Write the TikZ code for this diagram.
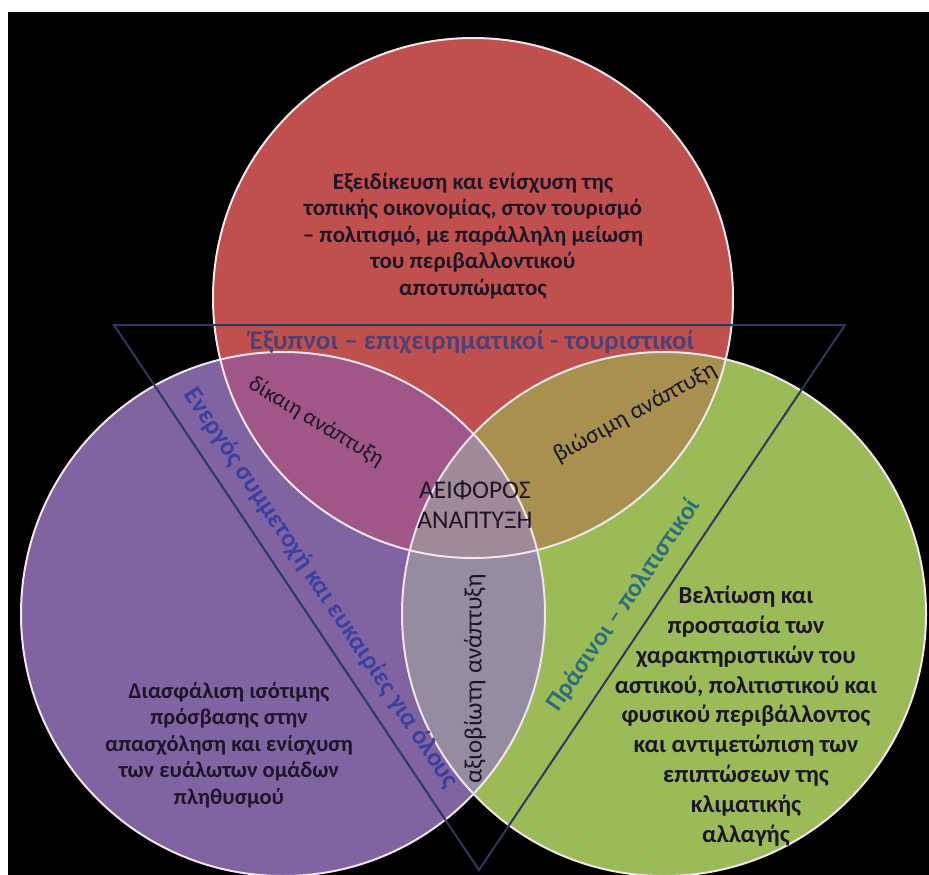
\documentclass[tikz,border=0pt]{standalone}
\usepackage{fontspec}
\setmainfont{Carlito}
\definecolor{redfill}{HTML}{C0504D}
\definecolor{purplefill}{HTML}{8064A2}
\definecolor{greenfill}{HTML}{9BBB59}
\definecolor{rpfill}{HTML}{A05686}
\definecolor{rgfill}{HTML}{A8914F}
\definecolor{pgfill}{HTML}{968CA2}
\definecolor{midfill}{HTML}{A08A98}
\definecolor{ringline}{HTML}{F4E4EC}
\definecolor{triline}{HTML}{2B3A5C}
\definecolor{toptext}{HTML}{4F3F72}
\definecolor{lefttext}{HTML}{3B3F9E}
\definecolor{righttext}{HTML}{2E6E78}
\definecolor{maintext}{HTML}{1E1428}
\begin{document}
\begin{tikzpicture}[x=1pt, y=-1pt]
  \tikzstyle{ring} = [draw=ringline, line width=2pt]
  \tikzstyle{tri} = [draw=triline, line width=2pt, line join=miter]
  \tikzstyle{goal} = [text=maintext, align=center, font={\bfseries\fontsize{23}{26.5}\selectfont}]
  \tikzstyle{lens} = [text=maintext, font={\fontsize{24}{28}\selectfont}]
  \tikzstyle{side} = [font={\bfseries\fontsize{26}{30}\selectfont}]

  % frame
  \fill[white] (0,0) rectangle (929,875);
  \fill[black] (8,12) rectangle (929,875);
  \useasboundingbox (0,0) rectangle (929,875);

  \coordinate (cR) at (473,298);
  \coordinate (cP) at (283,614);
  \coordinate (cG) at (664,614);

	% circles
	\fill[redfill] (cR) circle[radius=260pt];
	\fill[purplefill] (cP) circle[radius=262pt];
	\fill[greenfill] (cG) circle[radius=262pt];

	% overlaps
	\begin{scope}
	  \clip (cR) circle[radius=260pt];
	  \fill[rpfill] (cP) circle[radius=262pt];
	  \fill[rgfill] (cG) circle[radius=262pt];
	\end{scope}
	\begin{scope}
	  \clip (cP) circle[radius=262pt];
	  \fill[pgfill] (cG) circle[radius=262pt];
	  \clip (cG) circle[radius=262pt];
	  \fill[midfill] (cR) circle[radius=260pt];
	\end{scope}

	\draw[ring] (cR) circle[radius=260pt];
	\draw[ring] (cP) circle[radius=262pt];
	\draw[ring] (cG) circle[radius=262pt];

	% triangle
	\coordinate (tl) at (114,325);
	\coordinate (tr) at (845,325);
	\coordinate (tb) at (479,870);
	\draw[tri] (tl) -- (tr) -- (tb) -- cycle;

	% texts
	\node[goal] (eco) at (473,236) {Εξειδίκευση και ενίσχυση της\\τοπικής οικονομίας, στον τουρισμό\\– πολιτισμό, με παράλληλη μείωση\\του περιβαλλοντικού\\αποτυπώματος};
	\node[goal, font={\bfseries\fontsize{22.5}{26.6}\selectfont}] (soc) at (229,745) {Διασφάλιση ισότιμης\\πρόσβασης στην\\απασχόληση και ενίσχυση\\των ευάλωτων ομάδων\\πληθυσμού};
	\node[goal, font={\bfseries\fontsize{24.5}{29.8}\selectfont}] (env) at (746,716) {Βελτίωση και\\προστασία των\\χαρακτηριστικών του\\αστικού, πολιτιστικού και\\φυσικού περιβάλλοντος\\και αντιμετώπιση των\\επιπτώσεων της\\κλιματικής\\αλλαγής};

	\node[side, text=toptext, font={\bfseries\fontsize{27}{30}\selectfont}] (smart) at (472,342) {Έξυπνοι – επιχειρηματικοί - τουριστικοί};
	\node[side, text=lefttext, rotate=-56.3] (active) at (321,588) {Ενεργός συμμετοχή και ευκαιρίες για όλους};
	\node[side, text=righttext, rotate=55.5, font={\bfseries\fontsize{25.5}{30}\selectfont}] (green) at (624,605) {Πράσινοι – πολιτιστικοί};

	\node[lens, font={\fontsize{22.5}{26}\selectfont}, rotate=-31] (fair) at (316,422) {δίκαιη ανάπτυξη};
	\node[lens, rotate=29] (viable) at (635,413) {βιώσιμη ανάπτυξη};
	\node[lens, font={\fontsize{25}{28}\selectfont}, rotate=90] (livable) at (475,679) {αξιοβίωτη ανάπτυξη};
	\node[lens, align=center, font={\fontsize{25.5}{30}\selectfont}] (core) at (475,505) {ΑΕΙΦΟΡΟΣ\\ΑΝΑΠΤΥΞΗ};
\end{tikzpicture}
\end{document}
